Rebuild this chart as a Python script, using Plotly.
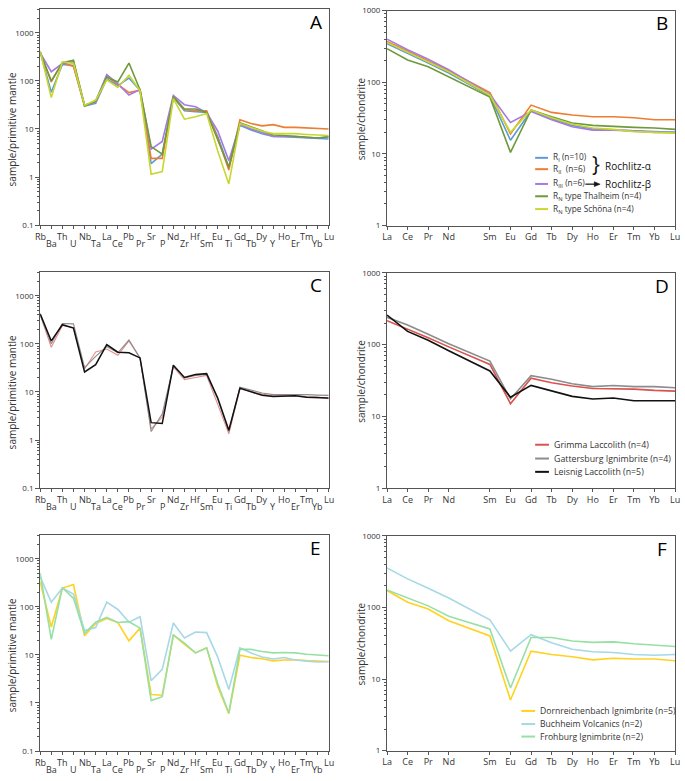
import plotly.graph_objects as go

W, H = 685, 781

# ---------------- data ----------------
spider_elems = ["Rb", "Ba", "Th", "U", "Nb", "Ta", "La", "Ce", "Pb", "Pr", "Sr", "P", "Nd", "Zr",
                "Hf", "Sm", "Eu", "Ti", "Gd", "Tb", "Dy", "Y", "Ho", "Er", "Tm", "Yb", "Lu"]
ree_elems = ["La", "Ce", "Pr", "Nd", "Sm", "Eu", "Gd", "Tb", "Dy", "Ho", "Er", "Tm", "Yb", "Lu"]
ree_pos = [0, 1, 2, 3, 5, 6, 7, 8, 9, 10, 11, 12, 13, 14]  # Pm gap

# Panel A (primitive mantle normalised)
A_RI = [400, 58, 220, 210, 30, 34, 110, 80, 115, 63, 1.9, 3.0, 45, 24, 23, 22, 7.0, 1.6, 12, 9.5, 8, 7, 6.9, 6.7, 6.5, 6.3, 6.2]
A_RII = [400, 95, 240, 200, 31, 37, 125, 85, 57, 64, 2.45, 2.45, 48, 25, 24, 24, 6.5, 1.4, 15.5, 13, 11.6, 12.3, 10.8, 10.8, 10.5, 10, 10]
A_RIII = [380, 155, 230, 250, 31, 37, 135, 87, 51, 66, 3.8, 5.5, 50, 32, 29, 22, 9.1, 2.2, 12.5, 10, 8.5, 7, 7, 7, 6.7, 6.5, 7]
A_Thal = [390, 100, 240, 270, 30, 38, 120, 95, 235, 65, 4.3, 3.0, 47, 26, 26, 22, 6.0, 1.6, 13.5, 11, 9, 7.5, 7.3, 7, 6.8, 6.5, 6.8]
A_Schoe = [420, 45, 250, 230, 31, 40, 105, 73, 131, 62, 1.15, 1.3, 43, 16, 18, 21, 3.5, 0.72, 13, 11, 9, 8, 8, 8, 7.7, 7.5, 7.3]

# Panel B (chondrite normalised)
B_RI = [345, 250, 185, 135, 65, 15.5, 40, 31, 25, 22.5, 22, 21, 20.5, 20]
B_RII = [370, 270, 200, 145, 72, 19, 48, 38, 35, 33, 33, 32, 30, 30]
B_RIII = [400, 285, 210, 150, 68, 27.5, 39, 30, 24, 21.5, 21.5, 21, 20, 20]
B_Thal = [295, 205, 165, 120, 62, 10.5, 41, 33, 27, 25, 24, 23.5, 23, 22]
B_Schoe = [360, 265, 195, 140, 66, 20, 41, 32, 26, 23, 22, 20.5, 20, 19.5]

# Panel C
C_Grimma = [400, 85, 240, 220, 30, 68, 78, 58, 115, 50, 1.7, 3.0, 33, 18, 20, 22, 5.5, 1.35, 11.5, 10, 9, 8.3, 8.2, 8.4, 8, 7.8, 7.2]
C_Gatt = [410, 100, 265, 260, 32, 55, 88, 65, 120, 51, 1.5, 3.5, 35, 19.5, 22, 23, 7.0, 1.5, 12.5, 11, 9.5, 8.8, 8.8, 9, 8.8, 8.6, 8.5]
C_Leis = [420, 115, 250, 212, 26, 37, 96, 67, 65, 51, 2.3, 2.2, 36, 20, 23, 24, 7.5, 1.6, 12, 10, 8.5, 8, 8.1, 8.3, 7.8, 7.7, 7.5]

# Panel D
D_Grimma = [216, 165, 125, 93, 53, 15, 34, 29.5, 26.5, 24.5, 24.5, 24, 23, 22.5]
D_Gatt = [240, 188, 140, 103, 59, 17.5, 37, 33, 28.5, 26, 27, 26, 26, 25]
D_Leis = [258, 153, 115, 82, 43, 18.5, 27, 22.5, 19, 17.5, 18, 16.5, 16.5, 16.5]

# Panel E
E_Dorn = [330, 38, 245, 290, 25, 45, 57, 47, 19.6, 36, 1.5, 1.45, 26, 16.5, 11, 14, 2.2, 0.6, 9.8, 8.8, 8.3, 7.5, 7.8, 7.9, 7.6, 7.4, 7.3]
E_Buch = [420, 125, 245, 185, 32, 37, 125, 88, 48, 62, 2.9, 5.0, 46, 22.5, 30, 29, 9.0, 1.9, 14, 11, 9, 8.2, 8.8, 7.8, 7.4, 7.1, 7.2]
E_Froh = [500, 21, 250, 150, 28, 48, 60, 47, 49, 36, 1.12, 1.35, 26, 17.5, 11, 14, 2.5, 0.62, 13, 13, 11.8, 11, 11.2, 11, 10.3, 9.9, 9.6]

# Panel F
F_Dorn = [172, 118, 95, 65, 40, 5.1, 24.5, 22, 20.5, 18.5, 19.5, 19, 19, 18]
F_Buch = [355, 250, 185, 135, 67, 24.5, 41.5, 32, 26, 24, 23.5, 22, 21.5, 22]
F_Froh = [175, 135, 105, 75, 50, 7.5, 38, 38, 34, 32.5, 33, 31, 30, 28.5]

# ---------------- styling ----------------
FONT = "Open Sans"
AX = "#555555"
TXT = "#333333"
C_blue, C_orange, C_purple, C_green, C_yg = "#5B9BD5", "#ED7D31", "#A57BE0", "#6E9A3C", "#C9D62E"
C_red, C_redC, C_gray, C_black = "#D9534F", "#E58C8C", "#8C8C8C", "#111111"
C_yel, C_lblue, C_lgreen = "#FFD21F", "#A6D8E6", "#96E0A4"

def px(x):
    return x / W

def py(y):
    return 1 - y / H

LX = [35.7, 328.5]
RX = [387.7, 680.0]
panels = {
    "A": dict(x=LX, y=[3.3, 222.3], kind="spider"),
    "B": dict(x=RX, y=[4.7, 222.7], kind="ree"),
    "C": dict(x=LX, y=[270.0, 489.0], kind="spider"),
    "D": dict(x=RX, y=[270.7, 489.0], kind="ree"),
    "E": dict(x=LX, y=[536.7, 755.7], kind="spider"),
    "F": dict(x=RX, y=[537.3, 755.3], kind="ree"),
}
order = ["A", "B", "C", "D", "E", "F"]

fig = go.Figure()
layout = {}
annotations = []
shapes = []

for i, key in enumerate(order, start=1):
    p = panels[key]
    sfx = "" if i == 1 else str(i)
    xd = [px(p["x"][0]), px(p["x"][1])]
    yd = [py(p["y"][1]), py(p["y"][0])]
    if p["kind"] == "spider":
        xrange = [0, len(spider_elems) - 1]
        tickvals = list(range(len(spider_elems)))
        yrange = [-1, 3.49]
        ytv = [0.1, 1, 10, 100, 1000]
        ytt = ["0.1", "1", "10", "100", "1000"]
        showtl = False
        ttext = spider_elems
    else:
        xrange = [0, 14]
        tickvals = ree_pos
        yrange = [0, 3]
        ytv = [1, 10, 100, 1000]
        ytt = ["1", "10", "100", "1000"]
        showtl = True
        ttext = ree_elems
    layout["xaxis" + sfx] = dict(
        domain=xd, range=xrange, anchor="y" + sfx, showgrid=False, zeroline=False,
        showline=True, mirror=True, linecolor=AX, linewidth=1,
        tickmode="array", tickvals=tickvals, ticktext=ttext, showticklabels=showtl,
        ticks="outside", ticklen=3, tickcolor=AX, tickwidth=1, ticklabeloverflow="allow",
        tickfont=dict(family=FONT, size=9, color=TXT), fixedrange=True,
    )
    layout["yaxis" + sfx] = dict(
        domain=yd, type="log", range=yrange, anchor="x" + sfx, showgrid=False, zeroline=False,
        showline=True, mirror=True, linecolor=AX, linewidth=1,
        tickmode="array", tickvals=ytv, ticktext=ytt,
        ticks="outside", ticklen=4, tickcolor=AX, tickwidth=1,
        minor=dict(ticks="outside", ticklen=2, tickcolor=AX, dtick="D1", showgrid=False),
        tickfont=dict(family=FONT, size=8, color=TXT), fixedrange=True,
    )
    # panel letter
    annotations.append(dict(
        text=key, x=px(p["x"][1] - 13), y=py(p["y"][0] + 13), xref="paper", yref="paper",
        showarrow=False, xanchor="center", yanchor="middle",
        font=dict(family=FONT, size=19, color="#000000")))
    # axis titles
    if p["kind"] == "spider":
        ttl, tx = "sample/primitive mantle", 7.5
        tcy = (p["y"][0] + 24 + p["y"][1]) / 2
        # x tick labels in two staggered rows
        x0, x1 = p["x"]
        step = (x1 - x0) / (len(spider_elems) - 1)
        for j, el in enumerate(spider_elems):
            off = 11.5 if j % 2 == 0 else 19.0
            annotations.append(dict(
                text=el, x=px(x0 + j * step), y=py(p["y"][1] + off), xref="paper", yref="paper",
                showarrow=False, xanchor="center", yanchor="middle",
                font=dict(family=FONT, size=9, color=TXT)))
    else:
        ttl, tx = "sample/chondrite", 361.5
        tcy = (p["y"][0] + p["y"][1]) / 2 + 1
    annotations.append(dict(
        text=ttl, x=px(tx), y=py(tcy), xref="paper", yref="paper", textangle=-90,
        showarrow=False, xanchor="center", yanchor="middle",
        font=dict(family=FONT, size=10, color=TXT)))

def add(xs, ys, color, idx, width=1.6):
    sfx = "" if idx == 1 else str(idx)
    fig.add_trace(go.Scatter(x=xs, y=ys, mode="lines", line=dict(color=color, width=width),
                             xaxis="x" + sfx, yaxis="y" + sfx, showlegend=False, hoverinfo="skip"))

sx = list(range(len(spider_elems)))
for ys, c in [(A_RI, C_blue), (A_RII, C_orange), (A_RIII, C_purple), (A_Thal, C_green), (A_Schoe, C_yg)]:
    add(sx, ys, c, 1)
for ys, c in [(B_RI, C_blue), (B_RII, C_orange), (B_RIII, C_purple), (B_Thal, C_green), (B_Schoe, C_yg)]:
    add(ree_pos, ys, c, 2)
add(sx, C_Grimma, C_redC, 3, 1.1)
add(sx, C_Gatt, C_gray, 3, 1.1)
add(sx, C_Leis, C_black, 3, 1.5)
add(ree_pos, D_Grimma, C_red, 4)
add(ree_pos, D_Gatt, C_gray, 4)
add(ree_pos, D_Leis, C_black, 4)
for ys, c in [(E_Dorn, C_yel), (E_Buch, C_lblue), (E_Froh, C_lgreen)]:
    add(sx, ys, c, 5)
for ys, c in [(F_Dorn, C_yel), (F_Buch, C_lblue), (F_Froh, C_lgreen)]:
    add(ree_pos, ys, c, 6)

# ---------------- legends ----------------
def legend_item(xl0, xl1, xt, y, color, text, size=8.5):
    shapes.append(dict(type="line", xref="paper", yref="paper", x0=px(xl0), x1=px(xl1),
                       y0=py(y), y1=py(y), line=dict(color=color, width=2)))
    annotations.append(dict(text=text, x=px(xt), y=py(y), xref="paper", yref="paper",
                            showarrow=False, xanchor="left", yanchor="middle",
                            font=dict(family=FONT, size=size, color=TXT)))

B_leg = [
    (154.0, C_blue, "R<sub>I</sub> (n=10)"),
    (165.5, C_orange, "R<sub>II</sub>  (n=6)"),
    (180.5, C_purple, "R<sub>III</sub> (n=6)"),
    (193.0, C_green, "R<sub>N</sub> type Thalheim (n=4)"),
    (206.0, C_yg, "R<sub>N</sub> type Schöna (n=4)"),
]
for y, c, t in B_leg:
    legend_item(538, 551, 554, y, c, t, 8.3)
annotations.append(dict(text="}", x=px(600), y=py(160.5), xref="paper", yref="paper", showarrow=False,
                        xanchor="center", yanchor="middle", font=dict(family=FONT, size=21, color="#111111")))
annotations.append(dict(text="Rochlitz-α", x=px(607), y=py(162.5), xref="paper", yref="paper", showarrow=False,
                        xanchor="left", yanchor="middle", font=dict(family=FONT, size=10, color="#111111")))
shapes.append(dict(type="line", xref="paper", yref="paper", x0=px(589), x1=px(599),
                   y0=py(180.7), y1=py(180.7), line=dict(color="#111111", width=1.2)))
shapes.append(dict(type="path", xref="paper", yref="paper",
                   path=f"M {px(598)},{py(178.2)} L {px(604)},{py(180.7)} L {px(598)},{py(183.2)} Z",
                   fillcolor="#111111", line=dict(color="#111111", width=0.5)))
annotations.append(dict(text="Rochlitz-β", x=px(607), y=py(181), xref="paper", yref="paper", showarrow=False,
                        xanchor="left", yanchor="middle", font=dict(family=FONT, size=10, color="#111111")))

for y, c, t in [(445.0, C_red, "Grimma Laccolith (n=4)"),
                (459.0, C_gray, "Gattersburg Ignimbrite (n=4)"),
                (472.5, C_black, "Leisnig Laccolith (n=5)")]:
    legend_item(538, 552, 555, y, c, t, 8.8)

for y, c, t in [(715.0, C_yel, "Dornreichenbach Ignimbrite (n=5)"),
                (728.3, C_lblue, "Buchheim Volcanics (n=2)"),
                (741.0, C_lgreen, "Frohburg Ignimbrite (n=2)")]:
    legend_item(524, 538, 541, y, c, t, 8.6)

fig.update_layout(
    width=W, height=H, margin=dict(l=0, r=0, t=0, b=0, pad=0),
    paper_bgcolor="white", plot_bgcolor="white", showlegend=False,
    annotations=annotations, shapes=shapes, **layout,
)
fig.write_html(
    "out.html",
    config={"displayModeBar": False},
    post_script="document.body.style.margin='0';document.body.style.padding='0';"
                "document.body.style.overflow='hidden';",
)
